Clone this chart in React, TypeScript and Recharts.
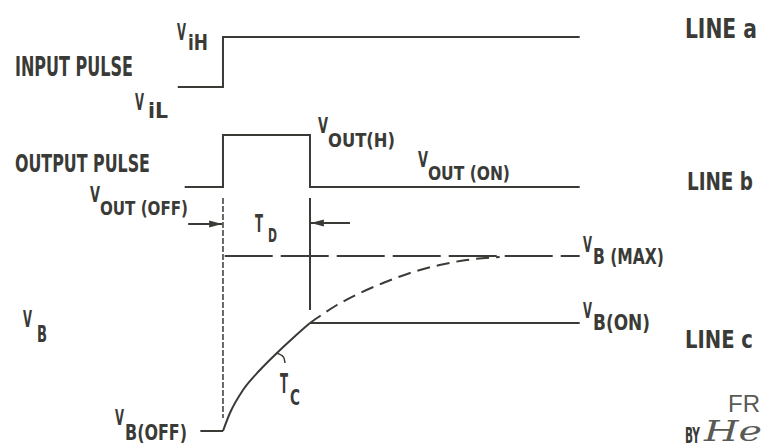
import { LineChart, Line, XAxis, YAxis, ReferenceDot } from "recharts"

const W = 763
const H = 444
const INK = "#3a3a36"
const X_DOMAIN = [-25.63, 62.07]
const Y_DOMAIN = [0, 44.4]

// line a: input pulse
const inputPulse = [
  { t: -5.2, v: 35.7 },
  { t: 0, v: 35.7 },
  { t: 0, v: 40.7 },
  { t: 41, v: 40.7 },
]

// line b: output pulse
const outputPulse = [
  { t: -4.4, v: 25.7 },
  { t: 0, v: 25.7 },
  { t: 0, v: 30.9 },
  { t: 10, v: 30.9 },
  { t: 10, v: 25.7 },
  { t: 41, v: 25.7 },
]

// line c: base voltage
const vbOff = [
  { t: -2.6, v: 1.3 },
  { t: 0, v: 1.3 },
]
const vbRise = [
  { t: 0, v: 1.3 },
  { t: 0.8, v: 3.1 },
  { t: 2.3, v: 5.4 },
  { t: 4.25, v: 7.4 },
  { t: 6.2, v: 9.1 },
  { t: 8.05, v: 10.6 },
  { t: 10, v: 12.1 },
]
const vbOn = [
  { t: 10, v: 12.1 },
  { t: 41, v: 12.1 },
]
const vbProjected = [
  { t: 10, v: 12.1 },
  { t: 13.1, v: 13.9 },
  { t: 15.75, v: 15.1 },
  { t: 18.4, v: 16.1 },
  { t: 21.5, v: 17.1 },
  { t: 24.9, v: 17.9 },
  { t: 28, v: 18.4 },
  { t: 31.8, v: 18.7 },
]
const vbMax = [
  { t: 0.2, v: 18.8 },
  { t: 41, v: 18.8 },
]

// construction marks
const guideStart = [
  { t: 0, v: 24.6 },
  { t: 0, v: 2.6 },
]
const guideEnd = [
  { t: 10, v: 24.6 },
  { t: 10, v: 13.4 },
]
const arrowIn = [
  { t: -4.0, v: 22.0 },
  { t: -0.1, v: 22.0 },
]
const arrowOut = [
  { t: 14.6, v: 22.1 },
  { t: 10.1, v: 22.1 },
]
const tcArc = [
  { t: 6.09, v: 9.1 },
  { t: 6.67, v: 8.9 },
  { t: 7.01, v: 8.6 },
  { t: 7.13, v: 8.1 },
]

// text, dx, dy, font size, width
type Piece = [string, number, number, number, number]
type Tag = { t: number; v: number; parts: Piece[]; kind?: "plain" | "hand" }

const labels: Tag[] = [
  { t: -5.29, v: 40.4, parts: [["V", 0, 0, 23, 9], ["iH", 11, 10, 22, 20]] },
  { t: -23.91, v: 36.8, parts: [["INPUT PULSE", 0, 0, 26, 118]] },
  { t: -10.11, v: 33.4, parts: [["V", 0, 0, 23, 9], ["iL", 13, 8, 22, 20]] },
  { t: -23.91, v: 27.2, parts: [["OUTPUT PULSE", 0, 0, 25, 135]] },
  { t: 10.92, v: 31.1, parts: [["V", 0, 0, 21, 10], ["OUT(H)", 10, 14, 20, 67]] },
  { t: 22.41, v: 27.7, parts: [["V", 0, 0, 21, 10], ["OUT (ON)", 10, 13, 20, 82]] },
  { t: -15.29, v: 24.2, parts: [["V", 0, 0, 21, 10], ["OUT (OFF)", 10, 13, 20, 88]] },
  { t: 3.68, v: 21.2, parts: [["T", 0, 0, 25, 8], ["D", 13, 10, 20, 9]] },
  { t: 41.38, v: 19.2, parts: [["V", 0, 0, 21, 9], ["B (MAX)", 10, 12, 21, 71]] },
  { t: 41.38, v: 12.6, parts: [["V", 0, 0, 21, 9], ["B(ON)", 10, 12, 21, 57]] },
  { t: -22.99, v: 11.7, parts: [["V", 0, 0, 23, 9], ["B", 14, 15, 23, 10]] },
  { t: 6.55, v: 5.1, parts: [["T", 0, 0, 27, 8], ["C", 10, 12, 22, 10]] },
  { t: -12.41, v: 1.9, parts: [["V", 0, 0, 21, 9], ["B(OFF)", 10, 15, 22, 62]] },
  { t: 53.1, v: 40.6, parts: [["LINE a", 0, 0, 27, 72]] },
  { t: 53.33, v: 25.4, parts: [["LINE b", 0, 0, 24, 66]] },
  { t: 53.1, v: 9.6, parts: [["LINE c", 0, 0, 24, 68]] },
  { t: 58.05, v: 3.2, parts: [["FR", 0, 0, 23, 32]], kind: "plain" },
  { t: 53.1, v: 0.1, parts: [["BY", 0, 0, 22, 15]] },
  { t: 55.29, v: 0.3, parts: [["He", 0, 0, 28, 58]], kind: "hand" },
]

const fonts = {
  letter: "'DejaVu Sans Condensed', 'DejaVu Sans', sans-serif",
  plain: "'Liberation Sans', Arial, sans-serif",
  hand: "'DejaVu Serif', serif",
}

function Lettering({ cx, cy, tag }: { cx: number; cy: number; tag: Tag }) {
  const family = tag.kind === "plain" ? fonts.plain : tag.kind === "hand" ? fonts.hand : fonts.letter
  return (
    <g>
      {tag.parts.map(([s, dx, dy, size, w], i) => (
        <text
          key={i}
          x={cx + dx}
          y={cy + dy}
          fontSize={size}
          fontFamily={family}
          fontWeight={tag.kind ? "normal" : "bold"}
          fontStyle={tag.kind === "hand" ? "italic" : "normal"}
          fill={tag.kind ? "#5a5a55" : INK}
          textLength={w}
          lengthAdjust="spacingAndGlyphs"
        >
          {s}
        </text>
      ))}
    </g>
  )
}

const arrowDot = (dir: number) => (p: any) => {
  if (p.index !== 1) return <g key={`n${p.index}`} />
  const { cx, cy } = p
  return <path key="head" d={`M${cx},${cy} l${-dir * 13},-3.5 l0,7 z`} fill={INK} />
}

const solid = {
  stroke: INK,
  strokeWidth: 2,
  dot: false,
  activeDot: false,
  isAnimationActive: false,
} as const

export default function App() {
  return (
    <div style={{ position: "absolute", left: 0, top: 0, background: "#fff" }}>
      <LineChart width={W} height={H} margin={{ top: 0, right: 0, bottom: 0, left: 0 }}>
        <XAxis dataKey="t" type="number" domain={X_DOMAIN} allowDataOverflow hide />
        <YAxis type="number" domain={Y_DOMAIN} allowDataOverflow hide />

        <Line data={inputPulse} dataKey="v" type="linear" {...solid} />
        <Line data={outputPulse} dataKey="v" type="linear" {...solid} />
        <Line data={vbOff} dataKey="v" type="linear" {...solid} />
        <Line data={vbRise} dataKey="v" type="monotone" {...solid} />
        <Line data={vbOn} dataKey="v" type="linear" {...solid} />
        <Line data={vbProjected} dataKey="v" type="monotone" {...solid} strokeDasharray="13 7" />
        <Line data={vbMax} dataKey="v" type="linear" {...solid} strokeDasharray="48 8" />

        <Line data={guideStart} dataKey="v" type="linear" {...solid} strokeWidth={1.5} strokeDasharray="6 2" />
        <Line data={guideEnd} dataKey="v" type="linear" {...solid} />
        <Line data={arrowIn} dataKey="v" type="linear" {...solid} dot={arrowDot(1)} />
        <Line data={arrowOut} dataKey="v" type="linear" {...solid} dot={arrowDot(-1)} />
        <Line data={tcArc} dataKey="v" type="monotone" {...solid} strokeWidth={1.5} />

        {labels.map((tag, i) => (
          <ReferenceDot
            key={i}
            x={tag.t}
            y={tag.v}
            r={0}
            shape={(p: any) => <Lettering cx={p.cx} cy={p.cy} tag={tag} />}
          />
        ))}
      </LineChart>
    </div>
  )
}
